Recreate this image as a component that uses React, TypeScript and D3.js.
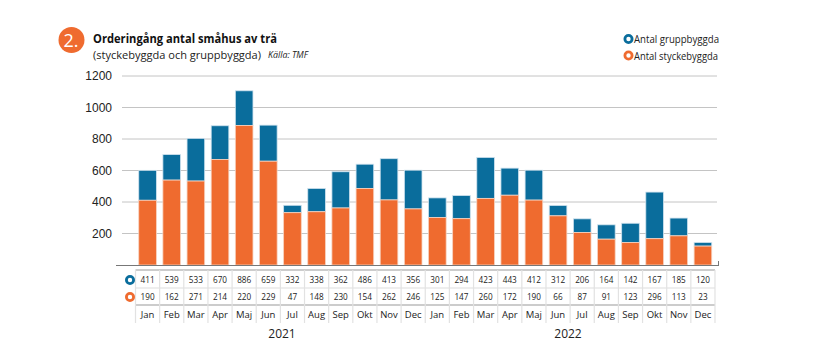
import React from "react";
import * as d3 from "d3";

const months = ["Jan","Feb","Mar","Apr","Maj","Jun","Jul","Aug","Sep","Okt","Nov","Dec","Jan","Feb","Mar","Apr","Maj","Jun","Jul","Aug","Sep","Okt","Nov","Dec"];
const years = ["2021", "2022"];
const stycke = [411,539,533,670,886,659,332,338,362,486,413,356,301,294,423,443,412,312,206,164,142,167,185,120];
const grupp = [190,162,271,214,220,229,47,148,230,154,262,246,125,147,260,172,190,66,87,91,123,296,113,23];
const yTicks = [200,400,600,800,1000,1200];

const BLUE = "#0a6d9c";
const ORANGE = "#ef6b2f";
const FONT = "'Liberation Sans', Arial, sans-serif";

export default function App() {
  const x = d3.scaleBand<number>().domain(d3.range(months.length)).range([135.5, 715]).padding(0);
  const y = d3.scaleLinear().domain([0, 1200]).range([265, 76]);
  const w = x.bandwidth();
  const bw = w * 0.73;
  const tableTop = 270;
  const row1 = 280, row2 = 297, row3 = 314;
  const x0 = x(0)!;
  const xEnd = x(months.length - 1)! + w;

  return (
    <svg width={832} height={356} style={{ position: "absolute", left: 0, top: 0, background: "#fff" }} fontFamily={FONT}>
      {/* title */}
      <circle cx={71.5} cy={40} r={13} fill={ORANGE} />
      <text x={71} y={46.5} textAnchor="middle" fill="#fff" fontSize={18} fontFamily="'Open Sans', sans-serif">2.</text>
      <text x={93} y={43} fontSize={13} fontWeight="bold" fill="#111" textLength={184} lengthAdjust="spacingAndGlyphs" fontFamily="'Open Sans', sans-serif">Orderingång antal småhus av trä</text>
      <text x={93} y={59} fontSize={11.5} fill="#222" textLength={168} lengthAdjust="spacingAndGlyphs" fontFamily="'Open Sans', sans-serif">(styckebyggda och gruppbyggda)</text>
      <text x={268} y={58} fontSize={8.5} fontStyle="italic" fill="#222" textLength={40} lengthAdjust="spacingAndGlyphs" fontFamily="'Open Sans', sans-serif">Källa: TMF</text>

      {/* legend */}
      <circle cx={628.5} cy={39} r={3.6} fill="none" stroke={BLUE} strokeWidth={2.8} />
      <text x={634} y={43} fontSize={11} fill="#222" textLength={85} lengthAdjust="spacingAndGlyphs" fontFamily="'Open Sans', sans-serif">Antal gruppbyggda</text>
      <circle cx={628.5} cy={55.5} r={3.6} fill="none" stroke={ORANGE} strokeWidth={2.8} />
      <text x={634} y={59.5} fontSize={11} fill="#222" textLength={84} lengthAdjust="spacingAndGlyphs" fontFamily="'Open Sans', sans-serif">Antal styckebyggda</text>

      {/* grid */}
      {yTicks.map((t) => (
        <g key={t}>
          <line x1={122} x2={717} y1={y(t)} y2={y(t)} stroke="#c4c4c4" strokeWidth={1} />
          <text x={112} y={y(t) + 4} textAnchor="end" fontSize={12} fill="#222">{t}</text>
        </g>
      ))}

      {/* bars */}
      {months.map((m, i) => {
        const bx = x(i)! + (w - bw) / 2;
        const total = stycke[i] + grupp[i];
        return (
          <g key={i}>
            <rect x={bx} y={y(total)} width={bw} height={y(stycke[i]) - y(total)} fill={BLUE} stroke="#cfe2ee" strokeWidth={0.8} />
            <rect x={bx} y={y(stycke[i])} width={bw} height={y(0) - y(stycke[i])} fill={ORANGE} stroke="#f7d2bf" strokeWidth={0.8} />
          </g>
        );
      })}

      {/* baseline */}
      <line x1={116} x2={719} y1={265.5} y2={265.5} stroke="#777" strokeWidth={1.2} />
      <line x1={718.5} x2={718.5} y1={261} y2={265.5} stroke="#777" strokeWidth={1} />

      {/* table */}
      <line x1={x0} x2={xEnd} y1={tableTop} y2={tableTop} stroke="#999" strokeWidth={1} />
      <line x1={x0} x2={xEnd} y1={288} y2={288} stroke="#ddd" strokeWidth={1} />
      <line x1={x0} x2={xEnd} y1={305} y2={305} stroke="#999" strokeWidth={1} />
      {months.map((m, i) => (
        <line key={"v" + i} x1={x(i)!} x2={x(i)!} y1={tableTop} y2={323} stroke="#e2e2e2" strokeWidth={1.2} />
      ))}
      <line x1={xEnd} x2={xEnd} y1={tableTop} y2={323} stroke="#e2e2e2" strokeWidth={1.2} />
      <circle cx={130} cy={row1} r={3.6} fill="none" stroke={BLUE} strokeWidth={2.8} />
      <circle cx={130} cy={row2} r={3.6} fill="none" stroke={ORANGE} strokeWidth={2.8} />
      {months.map((m, i) => {
        const cx = x(i)! + w / 2;
        return (
          <g key={"t" + i} fontFamily="'Open Sans', sans-serif">
            <text x={cx} y={row1 + 3} textAnchor="middle" fontSize={8.2} fill="#222">{stycke[i]}</text>
            <text x={cx} y={row2 + 3} textAnchor="middle" fontSize={8.2} fill="#222">{grupp[i]}</text>
            <text x={cx} y={row3 + 3.5} textAnchor="middle" fontSize={9.5} fill="#222">{m}</text>
          </g>
        );
      })}
      {years.map((yr, k) => (
        <text key={yr} x={k === 0 ? 282 : 568} y={338} textAnchor="middle" fontSize={12} fill="#222" fontFamily="'Open Sans', sans-serif">{yr}</text>
      ))}
    </svg>
  );
}
